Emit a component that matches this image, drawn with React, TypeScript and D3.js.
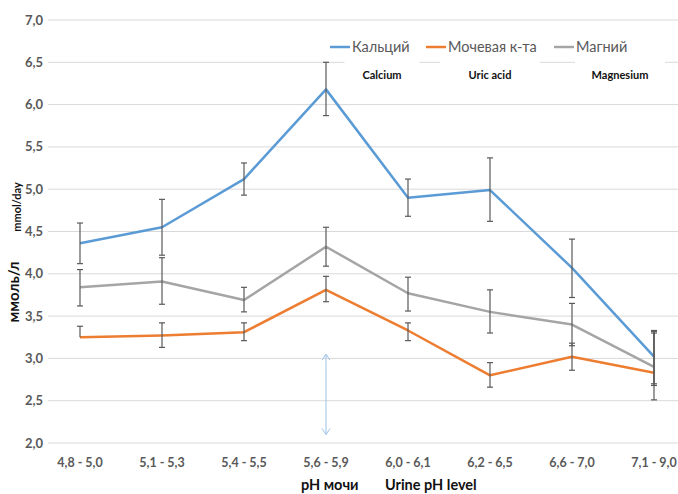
import React, { useEffect, useRef } from 'react';
import * as d3 from 'd3';

const categories = ['4,8 - 5,0', '5,1 - 5,3', '5,4 - 5,5', '5,6 - 5,9', '6,0 - 6,1', '6,2 - 6,5', '6,6 - 7,0', '7,1 - 9,0'];
const yTicks = [2.0, 2.5, 3.0, 3.5, 4.0, 4.5, 5.0, 5.5, 6.0, 6.5, 7.0];

const calcium = [4.36, 4.55, 5.12, 6.18, 4.9, 4.99, 4.07, 3.02];
const calciumHi = [4.6, 4.88, 5.31, 6.5, 5.12, 5.37, 4.41, 3.32];
const calciumLo = [4.12, 4.22, 4.93, 5.87, 4.68, 4.62, 3.72, 2.7];

const uric = [3.25, 3.27, 3.31, 3.81, 3.33, 2.8, 3.02, 2.83];
const uricHi = [3.38, 3.42, 3.42, 3.97, 3.42, 2.95, 3.18, 3.3];
const uricLo = [3.25, 3.13, 3.21, 3.67, 3.21, 2.66, 2.86, 2.68];

const magnesium = [3.84, 3.91, 3.69, 4.32, 3.77, 3.55, 3.4, 2.9];
const magnesiumHi = [4.05, 4.19, 3.84, 4.55, 3.96, 3.81, 3.65, 3.33];
const magnesiumLo = [3.62, 3.64, 3.55, 4.09, 3.56, 3.3, 3.15, 2.51];

const seriesNames = ['Кальций', 'Мочевая к-та', 'Магний'];
const englishNames = ['Calcium', 'Uric acid', 'Magnesium'];

const colors = ['#5b9bd5', '#ed7d31', '#a5a5a5'];

const App = () => {
  const ref = useRef<SVGSVGElement>(null);

  useEffect(() => {
    const svg = d3.select(ref.current);
    svg.selectAll('*').remove();
    const font = 'Lato, "Open Sans", sans-serif';

    const x = d3.scalePoint<string>().domain(categories).range([80, 654]);
    const y = d3.scaleLinear().domain([2, 7]).range([443, 20]);

    // gridlines
    svg.append('g')
      .selectAll('line')
      .data(yTicks)
      .enter()
      .append('line')
      .attr('x1', 48)
      .attr('x2', 678)
      .attr('y1', d => y(d))
      .attr('y2', d => y(d))
      .attr('stroke', '#d9d9d9')
      .attr('stroke-width', 1);

    // y tick labels
    svg.append('g')
      .selectAll('text')
      .data(yTicks)
      .enter()
      .append('text')
      .attr('x', 43)
      .attr('y', d => y(d))
      .attr('dy', '0.35em')
      .attr('text-anchor', 'end')
      .attr('font-family', font)
      .attr('font-weight', 'bold')
      .attr('font-size', 13)
      .attr('fill', '#595959')
      .text(d => d3.format('.1f')(d).replace('.', ','));

    // x tick labels
    svg.append('g')
      .selectAll('text')
      .data(categories)
      .enter()
      .append('text')
      .attr('x', d => x(d)!)
      .attr('y', 467)
      .attr('text-anchor', 'middle')
      .attr('font-family', font)
      .attr('font-weight', 'bold')
      .attr('font-size', 12.5)
      .attr('fill', '#595959')
      .text(d => d);

    // white boxes of the english labels
    const engX = [382, 490, 620];
    const engW = [75, 100, 90];
    englishNames.forEach((n, i) => {
      svg.append('rect')
        .attr('x', engX[i] - engW[i] / 2)
        .attr('y', 58)
        .attr('width', engW[i])
        .attr('height', 30)
        .attr('fill', '#fff');
    });

    // arrow
    const arrowX = x('5,6 - 5,9')!;
    const arrow = svg.append('g').attr('stroke', '#9dc3e6').attr('stroke-width', 1).attr('fill', 'none');
    arrow.append('line').attr('x1', arrowX).attr('x2', arrowX).attr('y1', y(3.05)).attr('y2', y(2.1));
    arrow.append('path').attr('d', `M${arrowX - 4},${y(3.05) + 6}L${arrowX},${y(3.05)}L${arrowX + 4},${y(3.05) + 6}`);
    arrow.append('path').attr('d', `M${arrowX - 4},${y(2.1) - 6}L${arrowX},${y(2.1)}L${arrowX + 4},${y(2.1) - 6}`);

    const series = [
      { v: calcium, hi: calciumHi, lo: calciumLo },
      { v: uric, hi: uricHi, lo: uricLo },
      { v: magnesium, hi: magnesiumHi, lo: magnesiumLo },
    ];

    const line = d3.line<number>()
      .x((d, i) => x(categories[i])!)
      .y(d => y(d));

    series.forEach((s, k) => {
      svg.append('path')
        .datum(s.v)
        .attr('d', line)
        .attr('fill', 'none')
        .attr('stroke', colors[k])
        .attr('stroke-width', 2.5)
        .attr('stroke-linejoin', 'round');
    });

    // error bars
    series.forEach(s => {
      const g = svg.append('g').attr('stroke', '#595959').attr('stroke-width', 1.2);
      categories.forEach((c, i) => {
        const cx = x(c)!;
        g.append('line').attr('x1', cx).attr('x2', cx).attr('y1', y(s.hi[i])).attr('y2', y(s.lo[i]));
        g.append('line').attr('x1', cx - 3).attr('x2', cx + 3).attr('y1', y(s.hi[i])).attr('y2', y(s.hi[i]));
        if (s.lo[i] !== s.v[i]) {
          g.append('line').attr('x1', cx - 3).attr('x2', cx + 3).attr('y1', y(s.lo[i])).attr('y2', y(s.lo[i]));
        }
      });
    });

    // legend
    const legX = [330, 426, 554];
    seriesNames.forEach((n, i) => {
      svg.append('line')
        .attr('x1', legX[i])
        .attr('x2', legX[i] + 20)
        .attr('y1', 47)
        .attr('y2', 47)
        .attr('stroke', colors[i])
        .attr('stroke-width', 2.5);
      svg.append('text')
        .attr('x', legX[i] + 22)
        .attr('y', 47)
        .attr('dy', '0.35em')
        .attr('font-family', font)
        .attr('font-size', 14.5)
        .attr('fill', '#595959')
        .text(n);
    });

    englishNames.forEach((n, i) => {
      svg.append('text')
        .attr('x', engX[i])
        .attr('y', 79)
        .attr('text-anchor', 'middle')
        .attr('font-family', font)
        .attr('font-weight', 'bold')
        .attr('font-size', 11)
        .attr('fill', '#111')
        .text(n);
    });

    // axis titles
    svg.append('text')
      .attr('transform', 'translate(19,292) rotate(-90)')
      .attr('text-anchor', 'middle')
      .attr('font-family', font)
      .attr('font-weight', 'bold')
      .attr('font-size', 15)
      .attr('fill', '#111')
      .text('ммоль/л');
    svg.append('text')
      .attr('transform', 'translate(21,207) rotate(-90)')
      .attr('text-anchor', 'middle')
      .attr('font-family', font)
      .attr('font-weight', 'bold')
      .attr('font-size', 11)
      .attr('fill', '#111')
      .text('mmol/day');

    svg.append('text')
      .attr('x', 301)
      .attr('y', 490)
      .attr('font-family', font)
      .attr('font-weight', 'bold')
      .attr('font-size', 14.5)
      .attr('fill', '#111')
      .text('pH мочи');
    svg.append('text')
      .attr('x', 385)
      .attr('y', 490)
      .attr('font-family', font)
      .attr('font-weight', 'bold')
      .attr('font-size', 14.5)
      .attr('fill', '#111')
      .text('Urine pH level');
  }, []);

  return (
    <svg ref={ref} width={678} height={494} style={{ position: 'absolute', left: 0, top: 0, background: '#fff' }} />
  );
};

export default App;
